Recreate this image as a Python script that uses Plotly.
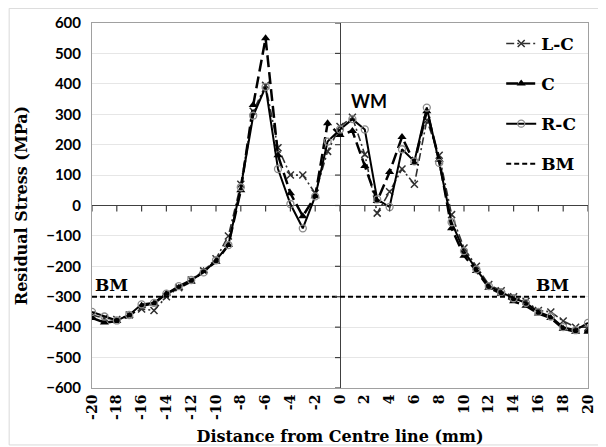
import plotly.graph_objects as go

x_mm = list(range(-20, 21))

lc = [-360, -370, -375, -360, -340, -345, -300, -270, -245, -215, -175, -100, 70, 310, 395, 190, 100, 100, 40, 178, 260,
      290, 168, -25, 45, 120, 70, 280, 165, -30, -140, -200, -260, -280, -300, -315, -345, -350, -380, -400, -400]
c = [-370, -385, -380, -362, -330, -322, -290, -270, -250, -215, -185, -130, 50, 330, 550, 165, 40, -35, 30, 270, 232,
     245, 130, 15, 110, 225, 140, 310, 150, -75, -165, -215, -270, -290, -315, -330, -355, -370, -405, -415, -415]
rc = [-350, -365, -378, -360, -325, -320, -290, -265, -245, -220, -180, -130, 60, 295, 390, 120, 5, -75, 30, 210, 250,
      284, 250, 20, -5, 185, 145, 322, 140, -55, -150, -210, -265, -285, -305, -320, -350, -365, -400, -410, -386]
bm = [-300] * len(x_mm)

x_ticks = list(range(-20, 21, 2))
y_ticks = list(range(-600, 601, 100))

serif = "DejaVu Serif"
sans = "Lato"

fig = go.Figure()
fig.add_trace(go.Scatter(x=x_mm, y=lc, name="L-C", mode="lines+markers", legendgroup="a",
                         line=dict(color="#303030", width=1.6, dash="8px,3px,2px,3px"),
                         marker=dict(symbol="x-thin-open", size=7, line=dict(color="#8a8a8a", width=1.5))))
fig.add_trace(go.Scatter(x=x_mm, y=c, name="C", mode="lines+markers", legendgroup="b",
                         line=dict(color="black", width=2.5, dash="12px,5px"),
                         marker=dict(symbol="triangle-up", size=8, color="black")))
fig.add_trace(go.Scatter(x=x_mm, y=rc, name="R-C", mode="lines+markers", legendgroup="c",
                         line=dict(color="black", width=2),
                         marker=dict(symbol="circle-open", size=7, color="#8a8a8a", line=dict(width=1.3))))
fig.add_trace(go.Scatter(x=x_mm, y=bm, name="BM", mode="lines", legendgroup="d",
                         line=dict(color="black", width=2, dash="5px,3px")))

shapes = []
# tick marks on the horizontal axis at y=0
for t in x_ticks:
    shapes.append(dict(type="line", xref="x", yref="y", x0=t, x1=t, ysizemode="pixel", yanchor=0,
                       y0=-6, y1=0, line=dict(color="#404040", width=1.2)))
# tick marks on the vertical axis at x=0
for t in y_ticks:
    shapes.append(dict(type="line", xref="x", yref="y", y0=t, y1=t, xsizemode="pixel", xanchor=0,
                       x0=-5, x1=0, line=dict(color="#404040", width=1.2)))
# outer chart border
shapes.append(dict(type="rect", xref="paper", yref="paper", x0=-0.167, x1=1.022, y0=-0.156, y1=1.04,
                   line=dict(color="#d9d9d9", width=1), layer="below"))

fig.update_layout(
    width=598, height=439,
    margin=dict(l=84, r=18, t=15, b=59, autoexpand=False),
    paper_bgcolor="white", plot_bgcolor="white",
    showlegend=True,
    legend=dict(x=0.825, y=0.992, xanchor="left", yanchor="top", bgcolor="rgba(0,0,0,0)",
                font=dict(family=serif, size=17, color="black", weight="bold"),
                tracegroupgap=15, itemwidth=30),
    shapes=shapes,
    annotations=[
        dict(x=2.3, y=345, xref="x", yref="y", text="<b>WM</b>", showarrow=False,
             font=dict(family=sans, size=18, color="black")),
        dict(x=-18.4, y=-262, xref="x", yref="y", text="<b>BM</b>", showarrow=False,
             font=dict(family=serif, size=17, color="black")),
        dict(x=17.1, y=-262, xref="x", yref="y", text="<b>BM</b>", showarrow=False,
             font=dict(family=serif, size=17, color="black")),
    ],
)

fig.update_xaxes(range=[-20, 20], tickvals=x_ticks, ticktext=[str(t) for t in x_ticks], tickangle=-90,
                 automargin=False,
                 showgrid=False, zeroline=True, zerolinecolor="#404040", zerolinewidth=1.2,
                 showline=True, linecolor="#a0a0a0", linewidth=1, mirror=True, ticks="",
                 tickfont=dict(family=serif, size=14, color="black", weight="bold"),
                 title=dict(text="Distance from Centre line (mm)", standoff=11,
                            font=dict(family=serif, size=16, color="black", weight="bold")))
fig.update_yaxes(range=[-600, 600], tickvals=y_ticks, showgrid=True, gridcolor="#e6e6e6", gridwidth=1,
                 automargin=False,
                 zeroline=True, zerolinecolor="#404040", zerolinewidth=1.2,
                 showline=True, linecolor="#a0a0a0", linewidth=1, mirror=True, ticks="",
                 ticklabelstandoff=7,
                 tickfont=dict(family=sans, size=15, color="black", weight="bold"),
                 title=dict(text="Residual Stress (MPa)", standoff=14,
                            font=dict(family=serif, size=16, color="black", weight="bold")))

fig.write_html("out.html")
